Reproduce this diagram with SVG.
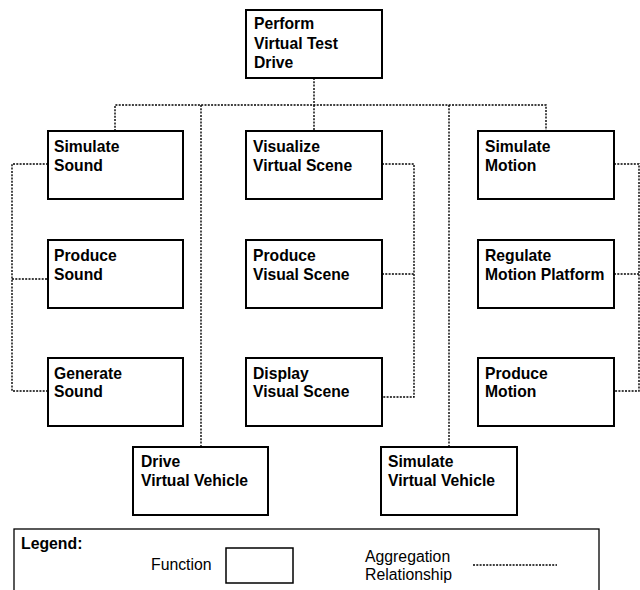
<svg xmlns="http://www.w3.org/2000/svg" width="640" height="590" viewBox="0 0 640 590">
  <style>
    .fn rect { fill: #fff; stroke: #000; stroke-width: 2; }
    .fn text { font-family: "Liberation Sans", Arial, sans-serif; font-weight: bold; font-size: 15.7px; fill: #000; }
    .agg { fill: none; stroke: #000; stroke-width: 1.4; stroke-dasharray: 2 1.3; }
    .lg { font-family: "Liberation Sans", Arial, sans-serif; font-size: 15.8px; fill: #000; }
  </style>
  <rect width="640" height="590" fill="#fff"/>

  <!-- aggregation connectors -->
  <g id="connectors" class="agg">
    <polyline points="314,78 314,105"/>
    <polyline points="115,131 115,105 546,105 546,131"/>
    <line x1="314" y1="105" x2="314" y2="131"/>
    <line x1="201" y1="105" x2="201" y2="447"/>
    <line x1="449" y1="105" x2="449" y2="447"/>
    <!-- sound branch -->
    <polyline points="48,164 12,164 12,391 48,391"/>
    <line x1="12" y1="279" x2="48" y2="279"/>
    <!-- visual branch -->
    <polyline points="382,164 414,164 414,397 382,397"/>
    <line x1="382" y1="274" x2="414" y2="274"/>
    <!-- motion branch -->
    <polyline points="614,164 639,164 639,391 614,391"/>
    <line x1="614" y1="274" x2="639" y2="274"/>
  </g>

  <g id="perform-virtual-test-drive" class="fn">
    <rect x="246" y="10" width="136" height="68"/>
    <text x="254" y="29">Perform</text>
    <text x="254" y="49">Virtual Test</text>
    <text x="254" y="68">Drive</text>
  </g>

  <g id="simulate-sound" class="fn">
    <rect x="48" y="131" width="135" height="68"/>
    <text x="54" y="152">Simulate</text>
    <text x="54" y="171">Sound</text>
  </g>
  <g id="visualize-virtual-scene" class="fn">
    <rect x="246" y="131" width="136" height="68"/>
    <text x="253" y="152">Visualize</text>
    <text x="253" y="171">Virtual Scene</text>
  </g>
  <g id="simulate-motion" class="fn">
    <rect x="478" y="131" width="136" height="68"/>
    <text x="485" y="152">Simulate</text>
    <text x="485" y="171">Motion</text>
  </g>

  <g id="produce-sound" class="fn">
    <rect x="48" y="240" width="135" height="68"/>
    <text x="54" y="261">Produce</text>
    <text x="54" y="280">Sound</text>
  </g>
  <g id="produce-visual-scene" class="fn">
    <rect x="246" y="240" width="136" height="68"/>
    <text x="253" y="261">Produce</text>
    <text x="253" y="280">Visual Scene</text>
  </g>
  <g id="regulate-motion-platform" class="fn">
    <rect x="478" y="240" width="136" height="68"/>
    <text x="485" y="261">Regulate</text>
    <text x="485" y="280">Motion Platform</text>
  </g>

  <g id="generate-sound" class="fn">
    <rect x="48" y="358" width="135" height="68"/>
    <text x="54" y="379">Generate</text>
    <text x="54" y="397">Sound</text>
  </g>
  <g id="display-visual-scene" class="fn">
    <rect x="246" y="358" width="136" height="68"/>
    <text x="253" y="379">Display</text>
    <text x="253" y="397">Visual Scene</text>
  </g>
  <g id="produce-motion" class="fn">
    <rect x="478" y="358" width="136" height="68"/>
    <text x="485" y="379">Produce</text>
    <text x="485" y="397">Motion</text>
  </g>

  <g id="drive-virtual-vehicle" class="fn">
    <rect x="133" y="447" width="135" height="68"/>
    <text x="141" y="467">Drive</text>
    <text x="141" y="486">Virtual Vehicle</text>
  </g>
  <g id="simulate-virtual-vehicle" class="fn">
    <rect x="381" y="447" width="136" height="68"/>
    <text x="388" y="467">Simulate</text>
    <text x="388" y="486">Virtual Vehicle</text>
  </g>

  <!-- legend -->
  <g id="legend">
    <rect x="14" y="529" width="585" height="80" fill="none" stroke="#000" stroke-width="1.3"/>
    <text x="21" y="549" class="lg" font-weight="bold" font-size="15.5">Legend:</text>
    <text x="151" y="570" class="lg">Function</text>
    <rect x="226" y="548" width="67" height="35" fill="#fff" stroke="#000" stroke-width="1.5"/>
    <text x="365" y="562" class="lg">Aggregation</text>
    <text x="365" y="580" class="lg">Relationship</text>
    <line x1="473" y1="565" x2="557" y2="565" class="agg"/>
  </g>
</svg>
